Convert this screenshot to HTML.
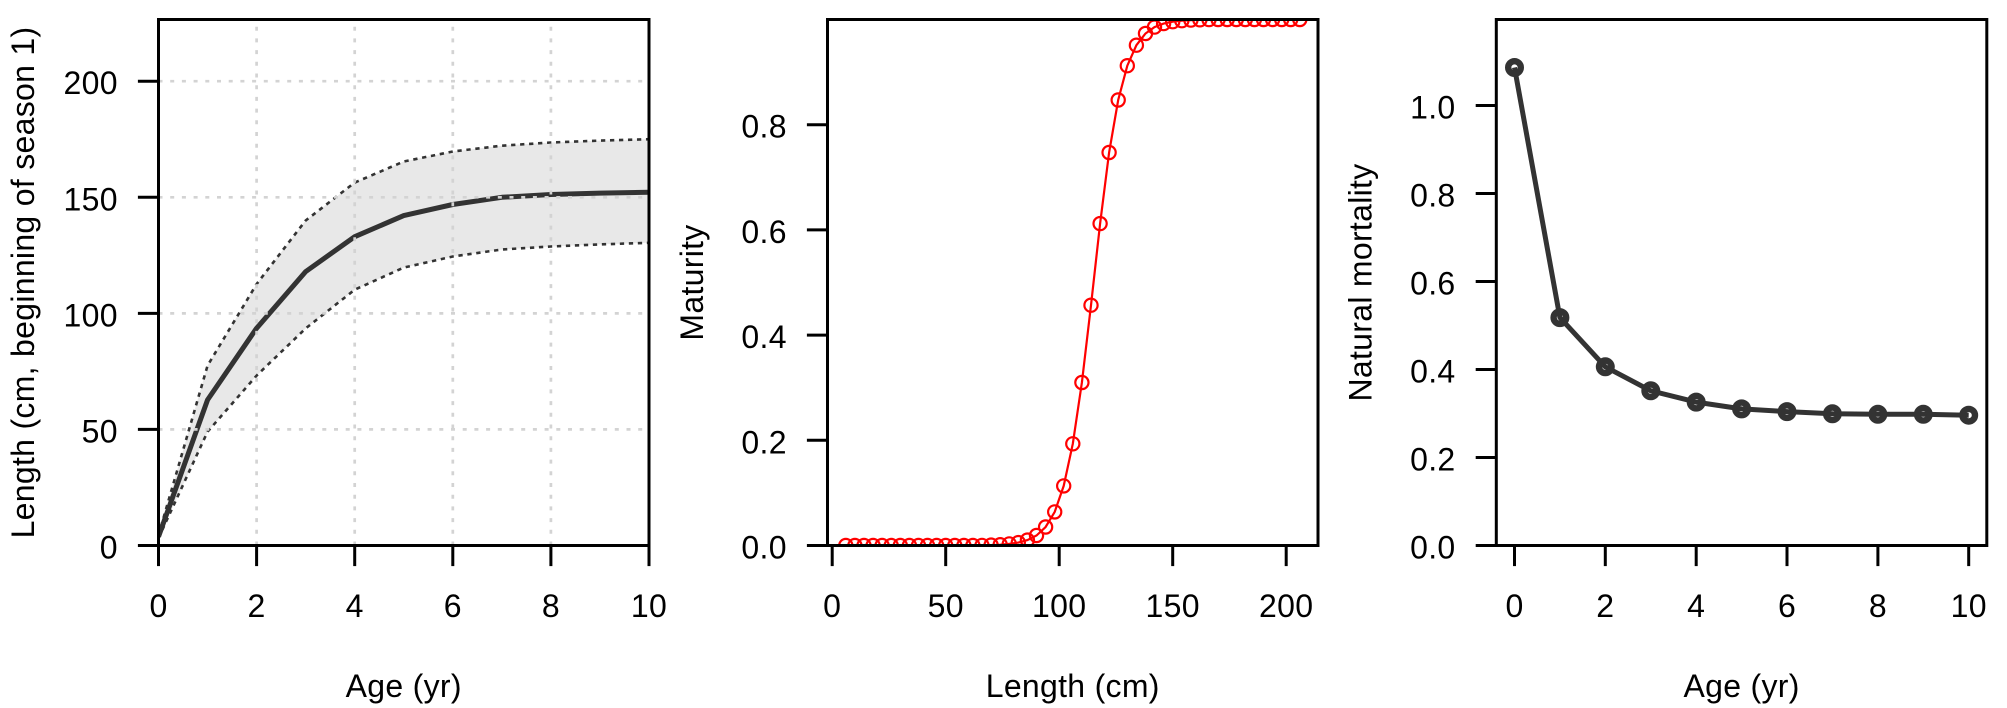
<!DOCTYPE html>
<html>
<head>
<meta charset="utf-8">
<style>
html,body{margin:0;padding:0;background:#fff;}
svg{display:block;}
text{font-family:"Liberation Sans",Arial,sans-serif;font-size:32px;fill:#000;letter-spacing:0.3px;}
</style>
</head>
<body>
<svg width="2007" height="708" viewBox="0 0 2007 708" xmlns="http://www.w3.org/2000/svg">
<defs>
<clipPath id="c1"><rect x="158.5" y="19.5" width="490.5" height="526"/></clipPath>
<clipPath id="c2"><rect x="827.5" y="19.5" width="490.5" height="526"/></clipPath>
<clipPath id="c3"><rect x="1496.3" y="19.5" width="490.5" height="526"/></clipPath>
</defs>
<rect width="2007" height="708" fill="#fff"/>

<!-- ================= PANEL 1 ================= -->
<g clip-path="url(#c1)">
<polygon fill="#E8E8E8" stroke="none" points="158.5,535.1 207.55,365.6 256.6,284.1 305.65,220.5 354.7,182.6 403.75,161.5 452.8,151.5 501.85,145.7 550.9,142.5 599.95,140.6 649,139.2 649,242.8 599.95,244.4 550.9,246.5 501.85,249.5 452.8,256.5 403.75,267.6 354.7,289.7 305.65,328.4 256.6,375.6 207.55,431.7 158.5,538.1"/>
<polyline fill="none" stroke="#333" stroke-width="2.6" stroke-dasharray="4.3 4.7" points="158.5,535.1 207.55,365.6 256.6,284.1 305.65,220.5 354.7,182.6 403.75,161.5 452.8,151.5 501.85,145.7 550.9,142.5 599.95,140.6 649,139.2"/>
<polyline fill="none" stroke="#333" stroke-width="2.6" stroke-dasharray="4.3 4.7" points="158.5,538.1 207.55,431.7 256.6,375.6 305.65,328.4 354.7,289.7 403.75,267.6 452.8,256.5 501.85,249.5 550.9,246.5 599.95,244.4 649,242.8"/>
<polyline fill="none" stroke="#333" stroke-width="5" stroke-linejoin="round" points="158.5,536.7 207.55,399.9 256.6,328.2 305.65,271.6 354.7,236.7 403.75,215.6 452.8,204.5 501.85,197.3 550.9,194.5 599.95,193.1 649,192.2"/>
<g stroke="#D3D3D3" stroke-width="2.7" stroke-dasharray="4 7.7" fill="none">
<line x1="256.6" y1="545.5" x2="256.6" y2="19.5"/>
<line x1="354.7" y1="545.5" x2="354.7" y2="19.5"/>
<line x1="452.8" y1="545.5" x2="452.8" y2="19.5"/>
<line x1="550.9" y1="545.5" x2="550.9" y2="19.5"/>
<line x1="158.5" y1="429.4" x2="649" y2="429.4"/>
<line x1="158.5" y1="313.35" x2="649" y2="313.35"/>
<line x1="158.5" y1="197.3" x2="649" y2="197.3"/>
<line x1="158.5" y1="81.2" x2="649" y2="81.2"/>
</g>
</g>
<rect x="158.5" y="19.5" width="490.5" height="526" fill="none" stroke="#000" stroke-width="3"/>
<g stroke="#000" stroke-width="3">
<line x1="158.5" y1="545.5" x2="158.5" y2="566.1"/>
<line x1="256.6" y1="545.5" x2="256.6" y2="566.1"/>
<line x1="354.7" y1="545.5" x2="354.7" y2="566.1"/>
<line x1="452.8" y1="545.5" x2="452.8" y2="566.1"/>
<line x1="550.9" y1="545.5" x2="550.9" y2="566.1"/>
<line x1="649" y1="545.5" x2="649" y2="566.1"/>
<line x1="137.9" y1="545.5" x2="158.5" y2="545.5"/>
<line x1="137.9" y1="429.4" x2="158.5" y2="429.4"/>
<line x1="137.9" y1="313.35" x2="158.5" y2="313.35"/>
<line x1="137.9" y1="197.3" x2="158.5" y2="197.3"/>
<line x1="137.9" y1="81.2" x2="158.5" y2="81.2"/>
</g>
<g text-anchor="middle">
<text x="158.5" y="617">0</text>
<text x="256.6" y="617">2</text>
<text x="354.7" y="617">4</text>
<text x="452.8" y="617">6</text>
<text x="550.9" y="617">8</text>
<text x="649" y="617">10</text>
<text x="403.75" y="697">Age (yr)</text>
</g>
<g text-anchor="end">
<text x="117.8" y="558.5">0</text>
<text x="117.8" y="442.4">50</text>
<text x="117.8" y="326.4">100</text>
<text x="117.8" y="210.3">150</text>
<text x="117.8" y="94.2">200</text>
</g>
<text text-anchor="middle" transform="translate(34,282.5) rotate(-90)">Length (cm, beginning of season 1)</text>

<!-- ================= PANEL 2 ================= -->
<g clip-path="url(#c2)">
<polyline fill="none" stroke="#FF0000" stroke-width="2.2" points="845.8,545.5 854.9,545.5 864.0,545.5 873.1,545.5 882.1,545.5 891.2,545.5 900.3,545.5 909.4,545.5 918.5,545.5 927.5,545.5 936.6,545.5 945.7,545.5 954.8,545.5 963.9,545.5 972.9,545.5 982.0,545.4 991.1,545.1 1000.2,544.7 1009.3,543.9 1018.3,542.6 1027.4,540.1 1036.5,535.5 1045.6,527.0 1054.7,511.9 1063.7,485.9 1072.8,443.8 1081.9,382.5 1091.0,305.2 1100.1,223.6 1109.1,152.5 1118.2,100.0 1127.3,65.7 1136.4,45.2 1145.5,33.5 1154.5,27.1 1163.6,23.6 1172.7,21.7 1181.8,20.7 1190.9,20.1 1199.9,19.8 1209.0,19.6 1218.1,19.5 1227.2,19.5 1236.3,19.5 1245.3,19.5 1254.4,19.5 1263.5,19.5 1272.6,19.5 1281.7,19.5 1290.7,19.5 1299.8,19.5"/>
<g fill="none" stroke="#FF0000" stroke-width="2.2">
<circle cx="845.8" cy="545.5" r="6.6"/><circle cx="854.9" cy="545.5" r="6.6"/><circle cx="864.0" cy="545.5" r="6.6"/><circle cx="873.1" cy="545.5" r="6.6"/><circle cx="882.1" cy="545.5" r="6.6"/><circle cx="891.2" cy="545.5" r="6.6"/><circle cx="900.3" cy="545.5" r="6.6"/><circle cx="909.4" cy="545.5" r="6.6"/><circle cx="918.5" cy="545.5" r="6.6"/><circle cx="927.5" cy="545.5" r="6.6"/><circle cx="936.6" cy="545.5" r="6.6"/><circle cx="945.7" cy="545.5" r="6.6"/><circle cx="954.8" cy="545.5" r="6.6"/><circle cx="963.9" cy="545.5" r="6.6"/><circle cx="972.9" cy="545.5" r="6.6"/><circle cx="982.0" cy="545.4" r="6.6"/><circle cx="991.1" cy="545.1" r="6.6"/><circle cx="1000.2" cy="544.7" r="6.6"/><circle cx="1009.3" cy="543.9" r="6.6"/><circle cx="1018.3" cy="542.6" r="6.6"/><circle cx="1027.4" cy="540.1" r="6.6"/><circle cx="1036.5" cy="535.5" r="6.6"/><circle cx="1045.6" cy="527.0" r="6.6"/><circle cx="1054.7" cy="511.9" r="6.6"/><circle cx="1063.7" cy="485.9" r="6.6"/><circle cx="1072.8" cy="443.8" r="6.6"/><circle cx="1081.9" cy="382.5" r="6.6"/><circle cx="1091.0" cy="305.2" r="6.6"/><circle cx="1100.1" cy="223.6" r="6.6"/><circle cx="1109.1" cy="152.5" r="6.6"/><circle cx="1118.2" cy="100.0" r="6.6"/><circle cx="1127.3" cy="65.7" r="6.6"/><circle cx="1136.4" cy="45.2" r="6.6"/><circle cx="1145.5" cy="33.5" r="6.6"/><circle cx="1154.5" cy="27.1" r="6.6"/><circle cx="1163.6" cy="23.6" r="6.6"/><circle cx="1172.7" cy="21.7" r="6.6"/><circle cx="1181.8" cy="20.7" r="6.6"/><circle cx="1190.9" cy="20.1" r="6.6"/><circle cx="1199.9" cy="19.8" r="6.6"/><circle cx="1209.0" cy="19.6" r="6.6"/><circle cx="1218.1" cy="19.5" r="6.6"/><circle cx="1227.2" cy="19.5" r="6.6"/><circle cx="1236.3" cy="19.5" r="6.6"/><circle cx="1245.3" cy="19.5" r="6.6"/><circle cx="1254.4" cy="19.5" r="6.6"/><circle cx="1263.5" cy="19.5" r="6.6"/><circle cx="1272.6" cy="19.5" r="6.6"/><circle cx="1281.7" cy="19.5" r="6.6"/><circle cx="1290.7" cy="19.5" r="6.6"/><circle cx="1299.8" cy="19.5" r="6.6"/>
</g>
</g>
<rect x="827.5" y="19.5" width="490.5" height="526" fill="none" stroke="#000" stroke-width="3"/>
<g stroke="#000" stroke-width="3">
<line x1="832.2" y1="545.5" x2="832.2" y2="566.1"/>
<line x1="945.7" y1="545.5" x2="945.7" y2="566.1"/>
<line x1="1059.2" y1="545.5" x2="1059.2" y2="566.1"/>
<line x1="1172.7" y1="545.5" x2="1172.7" y2="566.1"/>
<line x1="1286.2" y1="545.5" x2="1286.2" y2="566.1"/>
<line x1="806.9" y1="545.5" x2="827.5" y2="545.5"/>
<line x1="806.9" y1="440.3" x2="827.5" y2="440.3"/>
<line x1="806.9" y1="335.1" x2="827.5" y2="335.1"/>
<line x1="806.9" y1="229.9" x2="827.5" y2="229.9"/>
<line x1="806.9" y1="124.7" x2="827.5" y2="124.7"/>
</g>
<g text-anchor="middle">
<text x="832.2" y="617">0</text>
<text x="945.7" y="617">50</text>
<text x="1059.2" y="617">100</text>
<text x="1172.7" y="617">150</text>
<text x="1286.2" y="617">200</text>
<text x="1072.75" y="697">Length (cm)</text>
</g>
<g text-anchor="end">
<text x="786.8" y="558.5">0.0</text>
<text x="786.8" y="453.3">0.2</text>
<text x="786.8" y="348.1">0.4</text>
<text x="786.8" y="242.9">0.6</text>
<text x="786.8" y="137.7">0.8</text>
</g>
<text text-anchor="middle" transform="translate(703,282.5) rotate(-90)">Maturity</text>

<!-- ================= PANEL 3 ================= -->
<g clip-path="url(#c3)">
<polyline fill="none" stroke="#333" stroke-width="5" stroke-linejoin="round" points="1514.5,67.5 1559.9,317.6 1605.3,366.8 1650.8,390.8 1696.2,402.1 1741.6,408.9 1787.0,411.6 1832.4,413.8 1877.9,414.3 1923.3,414.3 1968.7,415.2"/>
<g fill="none" stroke="#333" stroke-width="6.4">
<circle cx="1514.5" cy="67.5" r="6.3"/>
<circle cx="1559.9" cy="317.6" r="6.3"/>
<circle cx="1605.3" cy="366.8" r="6.3"/>
<circle cx="1650.8" cy="390.8" r="6.3"/>
<circle cx="1696.2" cy="402.1" r="6.3"/>
<circle cx="1741.6" cy="408.9" r="6.3"/>
<circle cx="1787.0" cy="411.6" r="6.3"/>
<circle cx="1832.4" cy="413.8" r="6.3"/>
<circle cx="1877.9" cy="414.3" r="6.3"/>
<circle cx="1923.3" cy="414.3" r="6.3"/>
<circle cx="1968.7" cy="415.2" r="6.3"/>
</g>
</g>
<rect x="1496.3" y="19.5" width="490.5" height="526" fill="none" stroke="#000" stroke-width="3"/>
<g stroke="#000" stroke-width="3">
<line x1="1514.5" y1="545.5" x2="1514.5" y2="566.1"/>
<line x1="1605.3" y1="545.5" x2="1605.3" y2="566.1"/>
<line x1="1696.2" y1="545.5" x2="1696.2" y2="566.1"/>
<line x1="1787.0" y1="545.5" x2="1787.0" y2="566.1"/>
<line x1="1877.9" y1="545.5" x2="1877.9" y2="566.1"/>
<line x1="1968.7" y1="545.5" x2="1968.7" y2="566.1"/>
<line x1="1475.7" y1="545.5" x2="1496.3" y2="545.5"/>
<line x1="1475.7" y1="457.5" x2="1496.3" y2="457.5"/>
<line x1="1475.7" y1="369.5" x2="1496.3" y2="369.5"/>
<line x1="1475.7" y1="281.5" x2="1496.3" y2="281.5"/>
<line x1="1475.7" y1="193.5" x2="1496.3" y2="193.5"/>
<line x1="1475.7" y1="105.5" x2="1496.3" y2="105.5"/>
</g>
<g text-anchor="middle">
<text x="1514.5" y="617">0</text>
<text x="1605.3" y="617">2</text>
<text x="1696.2" y="617">4</text>
<text x="1787.0" y="617">6</text>
<text x="1877.9" y="617">8</text>
<text x="1968.7" y="617">10</text>
<text x="1741.6" y="697">Age (yr)</text>
</g>
<g text-anchor="end">
<text x="1455.5" y="558.5">0.0</text>
<text x="1455.5" y="470.5">0.2</text>
<text x="1455.5" y="382.5">0.4</text>
<text x="1455.5" y="294.5">0.6</text>
<text x="1455.5" y="206.5">0.8</text>
<text x="1455.5" y="118.5">1.0</text>
</g>
<text text-anchor="middle" transform="translate(1371.5,282.5) rotate(-90)">Natural mortality</text>
</svg>
</body>
</html>
